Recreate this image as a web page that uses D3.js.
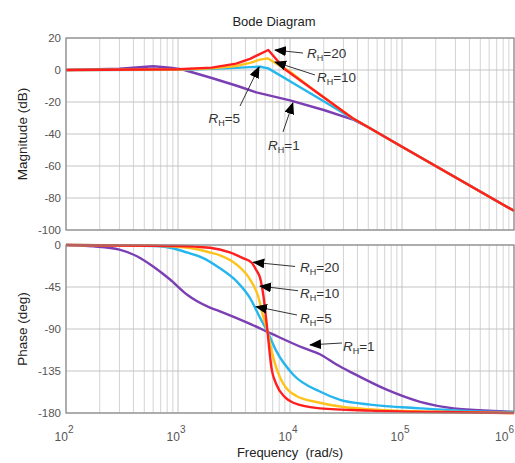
<!DOCTYPE html>
<html>
<head>
<meta charset="utf-8">
<script src="https://cdn.jsdelivr.net/npm/d3@7"></script>
<style>
  body { margin: 0; background: #fff; }
  svg { display: block; font-family: "Liberation Sans", Arial, sans-serif; }
</style>
</head>
<body>
<div id="chart"></div>
<script>
// ---- data ----
const freqTicks  = [1e2, 1e3, 1e4, 1e5, 1e6];
const magTicks   = [20, 0, -20, -40, -60, -80, -100];
const phaseTicks = [0, -45, -90, -135, -180];

const seriesNames  = ["RH=1", "RH=5", "RH=10", "RH=20"];
const seriesColors = ["#7b3fb3", "#25b6ee", "#ffc21a", "#ff1f1f"];

// [frequency rad/s, dB]
const magR1  = [[100,0],[300,0.8],[600,2.3],[850,1.5],[1100,0.3],[2000,-5],[3400,-10],[5000,-14],[10000,-19],[20000,-25],[36000,-30.8],[50000,-35.8],[100000,-48],[1000000,-88]];
const magR5  = [[100,0],[1000,0.2],[2000,0.7],[3300,1.3],[4400,1.8],[5400,2],[6400,1],[10000,-7],[20000,-19.5],[36000,-30.3],[50000,-35.8],[100000,-48],[1000000,-88]];
const magR10 = [[100,0],[1000,0.3],[2000,1],[3300,2.5],[4400,4.5],[5400,6.5],[6300,7.3],[8000,3],[10000,-1],[17400,-14],[36000,-30],[100000,-48],[1000000,-88]];
const magR20 = [[100,0],[500,0.3],[1000,0.5],[2000,1.5],[3300,4],[4400,7],[5200,9.5],[6400,12.5],[9000,0.5],[36000,-30],[100000,-48],[1000000,-88]];

// [frequency rad/s, deg]
const phR1  = [[100,0],[175,-1.4],[300,-5],[430,-12],[600,-23],[850,-37],[1200,-53],[1470,-60],[1930,-67],[2370,-71],[3300,-78],[4500,-85],[6300,-93],[13000,-110],[18500,-117],[26000,-128],[36000,-137],[73000,-155],[145000,-168],[290000,-175],[750000,-178],[1000000,-179]];
const phR5  = [[100,0],[400,-0.5],[690,-1.5],[850,-3],[1200,-8],[1680,-14],[2370,-25],[3340,-39],[4400,-57],[5400,-78],[6300,-93],[7580,-114],[10700,-139],[18500,-157],[28000,-166],[52000,-171],[145000,-175],[400000,-178],[1000000,-179]];
const phR10 = [[100,0],[500,-0.5],[850,-1.5],[1400,-4],[1930,-8],[2370,-11],[3340,-21],[4400,-37],[5200,-55],[5800,-78],[6300,-93],[7000,-118],[8150,-142],[11500,-162],[18500,-169],[28000,-173],[72000,-177],[300000,-179],[1000000,-180]];
const phR20 = [[100,0],[1000,-1],[1930,-3],[2900,-8],[3800,-14],[4550,-19],[5000,-27],[5400,-35],[5800,-55],[6300,-93],[6800,-130],[7600,-150],[9000,-163],[10700,-169],[18500,-175],[52000,-177.5],[200000,-179],[1000000,-180]];

const magSeries   = [magR1, magR5, magR10, magR20];
const phaseSeries = [phR1, phR5, phR10, phR20];

// annotations: [subscript value, tip f, tip v, tail f, tail v, label f, label v, anchor]
const magNotes = [
  ["20", 7350, 12.5, 13060, 10.6, 14200, 7.5, "start"],
  ["10", 7350, 5, 16700, -3.1, 17400, -7.5, "start"],
  ["5", 5290, 1.9, 3580, -22.5, 3580, -33, "end"],
  ["1", 10600, -20.6, 8660, -38.7, 6370, -50, "start"]
];
const phaseNotes = [
  ["20", 4700, -18.5, 11100, -23, 12300, -29, "start"],
  ["10", 5400, -44, 11800, -49, 12300, -57, "start"],
  ["5", 4970, -66, 11550, -75, 12300, -83.6, "start"],
  ["1", 15100, -107, 29100, -105, 29700, -113.6, "start"]
];

// ---- layout ----
const W = 515, H = 463;
const svg = d3.select("#chart").append("svg")
  .attr("width", W).attr("height", H);

const x = d3.scaleLog().domain([1e2, 1e6]).range([66, 514]);
const yMag = d3.scaleLinear().domain([-100, 20]).range([230, 38]);
const yPh  = d3.scaleLinear().domain([-180, 0]).range([413, 245]);

svg.append("defs").append("marker")
    .attr("id", "head")
    .attr("viewBox", "0 0 12 10")
    .attr("refX", 11).attr("refY", 5)
    .attr("markerWidth", 12).attr("markerHeight", 10)
    .attr("markerUnits", "userSpaceOnUse")
    .attr("orient", "auto")
  .append("path")
    .attr("d", "M0,0 L12,5 L0,10 Z")
    .attr("fill", "#000");

// minor frequencies for grid
const minorF = [];
for (let e = 2; e < 6; e++) for (let k = 2; k <= 9; k++) minorF.push(k * Math.pow(10, e));

function panel(y, yTicks, series, notes, curve) {
  const [y0, y1] = y.range();
  const g = svg.append("g");

  g.selectAll("line.minor").data(minorF).join("line")
      .attr("x1", d => x(d)).attr("x2", d => x(d))
      .attr("y1", y0).attr("y2", y1)
      .attr("stroke", "#d4d4d4").attr("stroke-width", 1);

  g.selectAll("line.vmaj").data(freqTicks).join("line")
      .attr("x1", d => x(d)).attr("x2", d => x(d))
      .attr("y1", y0).attr("y2", y1)
      .attr("stroke", "#c4c4c4").attr("stroke-width", 1);

  g.selectAll("line.hmaj").data(yTicks).join("line")
      .attr("x1", x.range()[0]).attr("x2", x.range()[1])
      .attr("y1", d => y(d)).attr("y2", d => y(d))
      .attr("stroke", "#c4c4c4").attr("stroke-width", 1);

  g.selectAll("text.ytick").data(yTicks).join("text")
      .attr("x", 61).attr("y", d => y(d) + 4)
      .attr("text-anchor", "end")
      .attr("font-size", 11.5)
      .attr("fill", "#555")
      .text(d => d);

  const line = d3.line()
      .x(d => x(d[0])).y(d => y(d[1]))
      .curve(curve);

  g.selectAll("path.series").data(series).join("path")
      .attr("d", line)
      .attr("fill", "none")
      .attr("stroke", (d, i) => seriesColors[i])
      .attr("stroke-width", 2.4)
      .attr("stroke-linejoin", "round");

  g.append("rect")
      .attr("x", x.range()[0]).attr("y", y1)
      .attr("width", x.range()[1] - x.range()[0])
      .attr("height", y0 - y1)
      .attr("fill", "none").attr("stroke", "#8a8a8a").attr("stroke-width", 1.2);

  notes.forEach(n => {
    g.append("line")
        .attr("x1", x(n[3])).attr("y1", y(n[4]))
        .attr("x2", x(n[1])).attr("y2", y(n[2]))
        .attr("stroke", "#333").attr("stroke-width", 1)
        .attr("marker-end", "url(#head)");
    const t = g.append("text")
        .attr("x", x(n[5])).attr("y", y(n[6]))
        .attr("text-anchor", n[7])
        .attr("font-size", 13.5)
        .attr("fill", "#333");
    t.append("tspan").attr("font-style", "italic").text("R");
    t.append("tspan").attr("font-size", 9).attr("dy", 3).text("H");
    t.append("tspan").attr("dy", -3).text("=" + n[0]);
  });
}

panel(yMag, magTicks, magSeries, magNotes, d3.curveLinear);
panel(yPh, phaseTicks, phaseSeries, phaseNotes, d3.curveMonotoneX);

// x tick labels 10^n
freqTicks.forEach((f, i) => {
  const last = i === freqTicks.length - 1;
  const t = svg.append("text")
      .attr("x", last ? 514 : x(f) - 2).attr("y", 441)
      .attr("text-anchor", last ? "end" : "middle")
      .attr("font-size", 12)
      .attr("fill", "#555");
  t.append("tspan").text("10");
  t.append("tspan").attr("font-size", 10).attr("dy", -8).text(2 + i);
});

// titles
svg.append("text")
    .attr("x", 274).attr("y", 26)
    .attr("text-anchor", "middle")
    .attr("font-size", 13)
    .attr("fill", "#222")
    .text("Bode Diagram");

svg.append("text")
    .attr("x", 290).attr("y", 457)
    .attr("text-anchor", "middle")
    .attr("font-size", 13)
    .attr("fill", "#222")
    .attr("xml:space", "preserve")
    .text("Frequency  (rad/s)");

svg.append("text")
    .attr("transform", "translate(27,134) rotate(-90)")
    .attr("text-anchor", "middle")
    .attr("font-size", 13.5)
    .attr("fill", "#222")
    .text("Magnitude (dB)");

svg.append("text")
    .attr("transform", "translate(27,329) rotate(-90)")
    .attr("text-anchor", "middle")
    .attr("font-size", 13.5)
    .attr("fill", "#222")
    .text("Phase (deg)");
</script>
</body>
</html>
